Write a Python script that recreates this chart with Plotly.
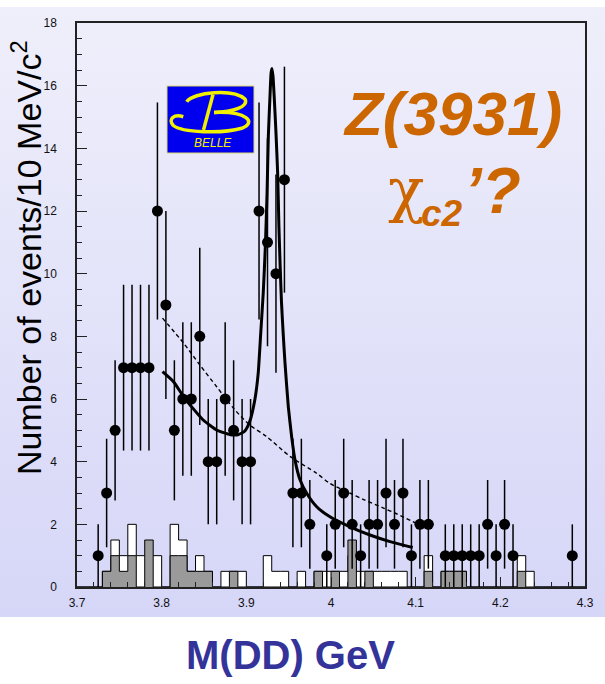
import base64
import numpy as np
import plotly.graph_objects as go

# D Dbar invariant mass, 10 MeV/c^2 bins: bin centres (GeV) that hold events
mass = [3.725, 3.735, 3.745, 3.755, 3.765, 3.775, 3.785, 3.795, 3.805, 3.815,
        3.825, 3.835, 3.845, 3.855, 3.865, 3.875, 3.885, 3.895, 3.905, 3.915,
        3.925, 3.935, 3.945, 3.955, 3.965, 3.975, 3.995, 4.005, 4.015, 4.025,
        4.035, 4.045, 4.055, 4.065, 4.075, 4.085, 4.095, 4.105, 4.115, 4.135,
        4.145, 4.155, 4.165, 4.175, 4.185, 4.195, 4.205, 4.215, 4.285]
events = [1, 3, 5, 7, 7, 7, 7, 12, 9, 5,
          6, 6, 8, 4, 4, 6, 5, 4, 4, 12,
          11, 10, 13, 3, 3, 2, 1, 2, 3, 2,
          1, 2, 2, 3, 2, 3, 1, 2, 2, 1,
          1, 1, 1, 1, 2, 1, 2, 1, 1]

# open (sideband) histogram, bin centres and contents
open_mass = [3.735, 3.745, 3.755, 3.765, 3.775, 3.785, 3.795, 3.815, 3.825, 3.835,
             3.845, 3.855, 3.875, 3.885, 3.895, 3.925, 3.935, 3.945, 3.965, 3.985,
             3.995, 4.005, 4.015, 4.025, 4.035, 4.045, 4.055, 4.065, 4.075, 4.085,
             4.115, 4.135, 4.145, 4.155, 4.225, 4.235]
open_counts = [0.5, 1.5, 1, 2, 1, 1, 1, 2, 1.5, 0.5,
               1, 0.5, 0.5, 0.5, 0.5, 1, 0.5, 0.5, 0.5, 0.5,
               0.5, 0.5, 0.5, 1, 0.5, 0.5, 0.5, 0.5, 0.5, 0.5,
               1, 0.5, 0.5, 0.5, 1, 0.5]

# shaded histogram
shaded_mass = [3.735, 3.745, 3.755, 3.765, 3.785, 3.815, 3.825, 3.835, 3.845, 3.855,
               3.885, 3.985, 4.005, 4.025, 4.045, 4.115, 4.135, 4.145, 4.155, 4.225]
shaded_counts = [0.5, 1, 0.5, 1, 1.5, 1, 1, 0.5, 0.5, 0.5,
                 0.5, 0.5, 0.5, 1.5, 0.5, 0.5, 0.5, 0.5, 0.5, 0.5]

# fit: signal + background
fit_mass = [3.801, 3.814, 3.826, 3.837, 3.849, 3.865, 3.881, 3.890, 3.898, 3.904,
            3.910, 3.914, 3.917, 3.920, 3.9225, 3.9245, 3.926, 3.928, 3.9292, 3.9302,
            3.9315, 3.933, 3.935, 3.937, 3.9385, 3.940, 3.9415, 3.9435, 3.9457, 3.9496,
            3.9535, 3.9575, 3.9634, 3.9713, 3.9831, 3.9988, 4.0224, 4.046, 4.0697, 4.0965]
fit_yield = [6.87, 6.55, 6.07, 5.70, 5.33, 5.01, 4.86, 4.86, 4.97, 5.28,
             5.97, 6.82, 8.10, 9.40, 10.9, 12.6, 14.4, 15.7, 16.4, 16.55,
             16.3, 15.6, 14.5, 13.2, 11.5, 10.2, 9.1, 8.1, 7.14, 5.75,
             4.80, 4.05, 3.42, 2.99, 2.56, 2.24, 1.92, 1.66, 1.45, 1.26]

# fit: background only
bkg_mass = [3.801, 3.826, 3.845, 3.865, 3.885, 3.904, 3.924, 3.952, 3.983, 3.999,
            4.022, 4.038, 4.062, 4.078, 4.103]
bkg_yield = [8.58, 7.78, 7.09, 6.39, 5.70, 5.17, 4.80, 4.16, 3.63, 3.30,
             3.00, 2.80, 2.52, 2.33, 2.00]

x_tickvals = [3.7, 3.8, 3.9, 4.0, 4.1, 4.2, 4.3]
x_ticktext = ["3.7", "3.8", "3.9", "4", "4.1", "4.2", "4.3"]
y_tickvals = [0, 2, 4, 6, 8, 10, 12, 14, 16, 18]

X_MIN, X_MAX, BIN_WIDTH = 3.70, 4.30, 0.01
W, H = 605, 684
L, R, T, B = 77, 20, 23, 97
PW, PH = W - L - R, H - T - B


def px(xp):
    return (xp - L) / PW


def py(yp):
    return (H - B - yp) / PH


def step_outline(centres, contents):
    """Bin edges and per-bin contents (zeros included) for an hv step line."""
    n_bins = int(round((X_MAX - X_MIN) / BIN_WIDTH))
    edges = [round(X_MIN + i * BIN_WIDTH, 3) for i in range(n_bins + 1)]
    filled = {int(round((c - X_MIN) / BIN_WIDTH - 0.5)): v for c, v in zip(centres, contents)}
    heights = [filled.get(i, 0) for i in range(n_bins)]
    return edges, heights + [0]


ORANGE = "#CC6600"
YELLOW = "#F0F000"
FONT = "Liberation Sans"

fig = go.Figure()

for centres, contents, colour in ((open_mass, open_counts, "white"),
                                  (shaded_mass, shaded_counts, "#9a9a9a")):
    ex, ey = step_outline(centres, contents)
    fig.add_trace(go.Scatter(
        x=ex, y=ey, mode="lines", line=dict(color="black", width=1, shape="hv"),
        fill="tozeroy", fillcolor=colour, hoverinfo="skip"))

fig.add_trace(go.Scatter(
    x=bkg_mass, y=bkg_yield, mode="lines",
    line=dict(color="black", width=1.4, dash="4px,3px", shape="spline", smoothing=0.8)))
fig.add_trace(go.Scatter(
    x=fit_mass, y=fit_yield, mode="lines",
    line=dict(color="black", width=3, shape="spline", smoothing=0.5)))

fig.add_trace(go.Scatter(
    x=mass, y=events, mode="markers",
    marker=dict(color="black", size=11),
    error_y=dict(type="data", array=np.sqrt(events), color="black",
                 thickness=1.5, width=0)))

fig.update_layout(
    width=W, height=H,
    margin=dict(l=L, r=R, t=T, b=B),
    paper_bgcolor="white",
    plot_bgcolor="rgba(0,0,0,0)",
    showlegend=False,
    font=dict(family=FONT, color="#111111"),
)

axis_common = dict(
    showgrid=False, zeroline=False,
    showline=True, linecolor="#222222", linewidth=1.5, mirror=True,
    ticks="inside", tickcolor="#222222", tickwidth=1.2, ticklen=10,
    tickfont=dict(family=FONT, size=12, color="#111111"),
)

fig.update_xaxes(
    range=[X_MIN, X_MAX], tickvals=x_tickvals, ticktext=x_ticktext,
    minor=dict(ticks="inside", dtick=0.02, tick0=X_MIN, ticklen=5,
               tickcolor="#222222", tickwidth=1),
    ticklabelstandoff=4,
    **axis_common)
fig.update_yaxes(
    range=[0, 18], tickvals=y_tickvals,
    minor=dict(ticks="inside", dtick=0.5, tick0=0, ticklen=5,
               tickcolor="#222222", tickwidth=1),
    ticklabelstandoff=16,
    **axis_common)

# lavender backdrop behind the whole chart panel
svg = ('<svg xmlns="http://www.w3.org/2000/svg" width="605" height="610" '
       'preserveAspectRatio="none"><defs><linearGradient id="g" x1="0" y1="0" '
       'x2="0" y2="1"><stop offset="0" stop-color="#EFEFFB"/>'
       '<stop offset="1" stop-color="#D6D6F8"/></linearGradient></defs>'
       '<rect width="605" height="610" fill="url(#g)"/></svg>')
fig.add_layout_image(
    source="data:image/svg+xml;base64," + base64.b64encode(svg.encode()).decode(),
    xref="paper", yref="paper", x=px(0), y=py(7),
    sizex=605 / PW, sizey=610 / PH, xanchor="left", yanchor="top",
    sizing="stretch", layer="below")


def logo_path(cmds):
    """SVG path in paper units from (command, [(x_px, y_px), ...]) pairs."""
    out = []
    for cmd, pts in cmds:
        out.append(cmd + " " + " ".join(f"{px(a):.5f},{py(b):.5f}" for a, b in pts))
    return " ".join(out)


b_upper = logo_path([("M", [(186.7, 101.7)]),
                     ("C", [(193.3, 92.0), (233.3, 88.5), (245.0, 99.0)]),
                     ("C", [(249.0, 106.5), (233.3, 112.0), (214.0, 112.5)])])
b_lower = logo_path([("M", [(214.0, 112.5)]),
                     ("C", [(247.0, 111.0), (257.0, 122.5), (241.7, 128.3)]),
                     ("C", [(222.0, 134.0), (182.0, 132.5), (173.3, 125.5)]),
                     ("C", [(167.5, 119.0), (174.0, 114.0), (183.3, 116.7)])])
b_stem = logo_path([("M", [(213.0, 94.5)]), ("L", [(203.5, 130.0)])])

shapes = [
    dict(type="rect", xref="paper", yref="paper",
         x0=px(167), x1=px(254), y0=py(153), y1=py(86),
         fillcolor="#0000EE", line=dict(color="#D8D870", width=1)),
    dict(type="path", xref="paper", yref="paper", path=b_upper,
         line=dict(color=YELLOW, width=3.5)),
    dict(type="path", xref="paper", yref="paper", path=b_lower,
         line=dict(color=YELLOW, width=3.5)),
    dict(type="path", xref="paper", yref="paper", path=b_stem,
         line=dict(color=YELLOW, width=3.5)),
]
fig.update_layout(shapes=shapes)

annotations = [
    dict(text="<i>BELLE</i>", x=px(213), y=py(143), font=dict(size=12, color=YELLOW)),
    dict(text="<b><i>Z(3931)</i></b>", x=px(452), y=py(113.5),
         font=dict(size=62, color=ORANGE)),
    dict(text="χ", x=px(406), y=py(190), font=dict(size=60, color=ORANGE, family="DejaVu Serif")),
    dict(text="<b><i>c2</i></b>", x=px(442), y=py(214), font=dict(size=37, color=ORANGE)),
    dict(text="<b><i>’?</i></b>", x=px(492), y=py(191), font=dict(size=64, color=ORANGE)),
    dict(text="Number of events/10 MeV/c<sup>2</sup>", textangle=-90,
         x=px(26), y=py(258), font=dict(size=34, color="black")),
    dict(text="<b>M(DD) GeV</b>", x=px(290), y=py(654.5),
         font=dict(size=40, color="#333399")),
]
for a in annotations:
    a.update(xref="paper", yref="paper", showarrow=False,
             xanchor="center", yanchor="middle")
    a["font"].setdefault("family", FONT)
fig.update_layout(annotations=annotations)

fig.write_html("out.html")
